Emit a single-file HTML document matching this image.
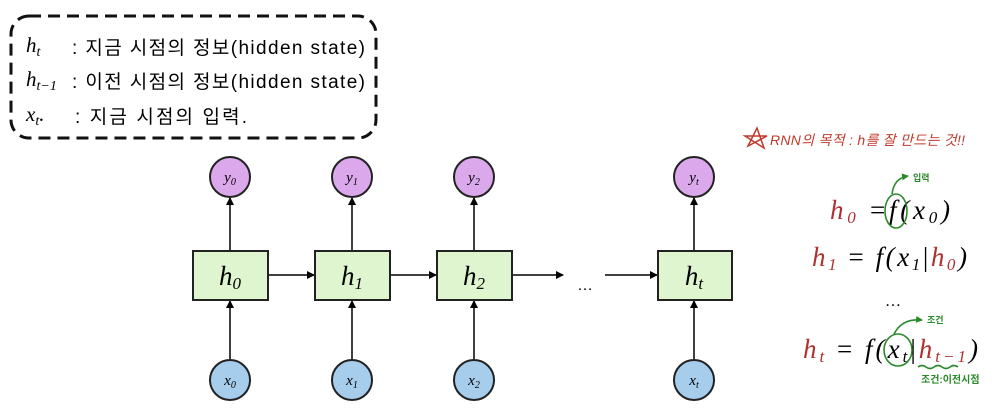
<!DOCTYPE html>
<html><head><meta charset="utf-8"><style>
body{margin:0;background:#fff;width:1004px;height:409px;overflow:hidden}
svg{display:block}
.m{font-family:"Liberation Serif",serif;font-style:italic}
.k{font-family:"Liberation Sans","Noto Sans CJK KR",sans-serif}
</style></head><body>
<svg width="1004" height="409" viewBox="0 0 1004 409">
<defs><marker id="a" markerWidth="8" markerHeight="8" refX="7" refY="4" orient="auto" markerUnits="userSpaceOnUse"><path d="M0,0 L8,4 L0,8z" fill="#000"/></marker>
<marker id="g" markerWidth="7" markerHeight="7" refX="6" refY="3.5" orient="auto" markerUnits="userSpaceOnUse"><path d="M0,0 L7,3.5 L0,7z" fill="#2a8a2a"/></marker></defs>
<rect x="11" y="16" width="365" height="122" rx="18" fill="none" stroke="#111" stroke-width="3" stroke-dasharray="12,7"/>
<text x="26" y="52" class="m" font-size="21">h<tspan font-size="14" dy="4">t</tspan></text>
<text x="72" y="54" class="k" font-size="19" textLength="293" lengthAdjust="spacing">: 지금 시점의 정보(hidden state)</text>
<text x="26" y="86" class="m" font-size="21">h<tspan font-size="14" dy="4">t−1</tspan></text>
<text x="72" y="88" class="k" font-size="19" textLength="293" lengthAdjust="spacing">: 이전 시점의 정보(hidden state)</text>
<text x="26" y="121" class="m" font-size="21">x<tspan font-size="14" dy="4">t</tspan><tspan dy="-4">.</tspan></text>
<text x="75" y="123" class="k" font-size="19" textLength="172" lengthAdjust="spacing">: 지금 시점의 입력.</text>
<g stroke="#000" stroke-width="1.5" fill="none">
<line x1="230" y1="250" x2="230" y2="198" marker-end="url(#a)"/>
<line x1="352" y1="250" x2="352" y2="198" marker-end="url(#a)"/>
<line x1="474" y1="250" x2="474" y2="198" marker-end="url(#a)"/>
<line x1="694" y1="250" x2="694" y2="198" marker-end="url(#a)"/>
<line x1="230" y1="359" x2="230" y2="301" marker-end="url(#a)"/>
<line x1="352" y1="359" x2="352" y2="301" marker-end="url(#a)"/>
<line x1="474" y1="359" x2="474" y2="301" marker-end="url(#a)"/>
<line x1="694" y1="359" x2="694" y2="301" marker-end="url(#a)"/>
<line x1="268" y1="275" x2="314" y2="275" marker-end="url(#a)"/>
<line x1="390" y1="275" x2="436" y2="275" marker-end="url(#a)"/>
<line x1="512" y1="275" x2="563" y2="275" marker-end="url(#a)"/>
<line x1="605" y1="275" x2="657" y2="275" marker-end="url(#a)"/>
</g>
<g stroke="#222" stroke-width="2" fill="#dff5cf">
<rect x="193" y="251" width="75" height="49"/><rect x="315" y="251" width="75" height="49"/>
<rect x="437" y="251" width="75" height="49"/><rect x="658" y="251" width="74" height="49"/>
</g>
<g stroke="#222" stroke-width="2" fill="#dca8ec">
<circle cx="230" cy="177" r="20"/><circle cx="352" cy="177" r="20"/><circle cx="474" cy="177" r="20"/><circle cx="694" cy="177" r="20"/>
</g>
<g stroke="#222" stroke-width="2" fill="#a6cdec">
<circle cx="230" cy="380" r="20"/><circle cx="352" cy="380" r="20"/><circle cx="474" cy="380" r="20"/><circle cx="694" cy="380" r="20"/>
</g>
<g class="m" font-size="27" text-anchor="middle">
<text x="230" y="285">h<tspan font-size="17" dy="4">0</tspan></text>
<text x="352" y="285">h<tspan font-size="17" dy="4">1</tspan></text>
<text x="474" y="285">h<tspan font-size="17" dy="4">2</tspan></text>
<text x="694" y="285">h<tspan font-size="17" dy="4">t</tspan></text>
</g>
<g class="m" font-size="15" text-anchor="middle">
<text x="230" y="182">y<tspan font-size="10" dy="3">0</tspan></text>
<text x="352" y="182">y<tspan font-size="10" dy="3">1</tspan></text>
<text x="474" y="182">y<tspan font-size="10" dy="3">2</tspan></text>
<text x="694" y="182">y<tspan font-size="10" dy="3">t</tspan></text>
<text x="230" y="385">x<tspan font-size="10" dy="3">0</tspan></text>
<text x="352" y="385">x<tspan font-size="10" dy="3">1</tspan></text>
<text x="474" y="385">x<tspan font-size="10" dy="3">2</tspan></text>
<text x="694" y="385">x<tspan font-size="10" dy="3">t</tspan></text>
</g>
<text x="585" y="290" font-family="Liberation Sans" font-size="16" text-anchor="middle">…</text>
<!-- right side -->
<path d="M748,146 L757,128 L764,148 L745,136 L767,136z" fill="none" stroke="#c0392b" stroke-width="1.5"/>
<text x="770" y="145" class="k" font-size="14" fill="#c0392b" font-style="italic" textLength="195" lengthAdjust="spacing">RNN의 목적 : h를 잘 만드는 것!!</text>
<g class="m" font-size="27">
<text x="830" y="219" textLength="120" lengthAdjust="spacing"><tspan fill="#b03030">h</tspan><tspan fill="#b03030" font-size="17" dy="4">0</tspan><tspan dy="-4" font-style="normal"> =</tspan>f(x<tspan font-size="17" dy="4">0</tspan><tspan dy="-4">)</tspan></text>
<text x="812" y="266" textLength="155" lengthAdjust="spacing"><tspan fill="#b03030">h</tspan><tspan fill="#b03030" font-size="17" dy="4">1</tspan><tspan dy="-4" font-style="normal"> = </tspan>f(x<tspan font-size="17" dy="4">1</tspan><tspan dy="-4" font-style="normal">|</tspan><tspan fill="#b03030">h</tspan><tspan fill="#b03030" font-size="17" dy="4">0</tspan><tspan dy="-4">)</tspan></text>
<text x="893" y="306" font-size="16" font-style="normal" text-anchor="middle">…</text>
<text x="803" y="358" textLength="175" lengthAdjust="spacing"><tspan fill="#b03030">h</tspan><tspan fill="#b03030" font-size="17" dy="4">t</tspan><tspan dy="-4" font-style="normal"> = </tspan>f(x<tspan font-size="17" dy="4">t</tspan><tspan dy="-4" font-style="normal">|</tspan><tspan fill="#b03030">h</tspan><tspan fill="#b03030" font-size="17" dy="4">t−1</tspan><tspan dy="-4">)</tspan></text>
</g>
<g stroke="#2a8a2a" stroke-width="1.6" fill="none">
<ellipse cx="896" cy="211" rx="11" ry="17"/>
<path d="M892,194 Q894,178 908,176" marker-end="url(#g)"/>
<ellipse cx="898" cy="350" rx="14" ry="16"/>
<path d="M894,334 Q902,318 922,320" marker-end="url(#g)"/>
<path d="M918,367 q4,-3 8,0 t8,0 t8,0 t8,0 t8,0"/>
</g>
<text x="913" y="181" class="k" font-size="9" fill="#2a8a2a" font-weight="bold">입력</text>
<text x="927" y="323" class="k" font-size="9" fill="#2a8a2a" font-weight="bold">조건</text>
<text x="921" y="383" class="k" font-size="10" fill="#2a8a2a" font-weight="bold">조건:이전시점</text>
</svg>
</body></html>
